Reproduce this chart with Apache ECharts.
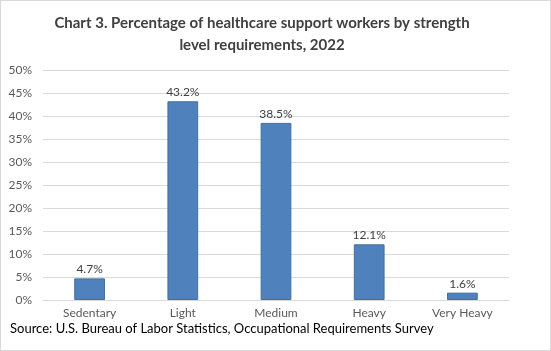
<!DOCTYPE html>
<html>
<head>
<meta charset="utf-8">
<script src="https://cdn.jsdelivr.net/npm/echarts@6/dist/echarts.min.js"></script>
<style>
  html, body { margin: 0; padding: 0; background: #fff; }
  #chart { width: 549px; height: 349px; border: 1px solid #d9d9d9; }
</style>
</head>
<body>
<div id="chart"></div>
<script>
const categories = ["Sedentary", "Light", "Medium", "Heavy", "Very Heavy"];
const values = [4.7, 43.2, 38.5, 12.1, 1.6];

const chart = echarts.init(document.getElementById("chart"));
const option = {
  animation: false,
  graphic: [
    {
      type: "text",
      x: 261,
      y: 11,
      style: {
        text: "Chart 3. Percentage of healthcare support workers by strength\nlevel requirements, 2022",
        align: "center",
        verticalAlign: "top",
        fontFamily: "Lato",
        fontSize: 15,
        fontWeight: "bold",
        fill: "#404040",
        lineHeight: 22
      }
    },
    {
      type: "text",
      x: 9,
      y: 321,
      style: {
        text: "Source: U.S. Bureau of Labor Statistics, Occupational Requirements Survey",
        verticalAlign: "top",
        fontFamily: "Lato",
        fontSize: 13,
        fill: "#000"
      }
    }
  ],
  grid: { left: 42, right: 41, top: 69, bottom: 50 },
  xAxis: {
    type: "category",
    data: categories,
    axisLine: { lineStyle: { color: "#d9d9d9" } },
    axisTick: { show: false },
    axisLabel: { color: "#595959", fontFamily: "Lato", fontSize: 12, margin: 7 }
  },
  yAxis: {
    type: "value",
    min: 0,
    max: 50,
    interval: 5,
    axisLabel: {
      formatter: "{value}%",
      color: "#595959",
      fontFamily: "Lato",
      fontSize: 12,
      margin: 11
    },
    splitLine: { lineStyle: { color: "#d9d9d9" } }
  },
  series: [
    {
      type: "bar",
      data: values,
      barWidth: "33%",
      itemStyle: { color: "#4f81bd", borderColor: "#41719c", borderWidth: 1 },
      label: {
        show: true,
        position: "top",
        formatter: p => p.value.toFixed(1) + "%",
        color: "#404040",
        fontFamily: "Lato",
        fontSize: 12,
        distance: 3
      }
    }
  ]
};
chart.setOption(option);
window.onresize = function() {
  chart.resize();
};
</script>
</body>
</html>
